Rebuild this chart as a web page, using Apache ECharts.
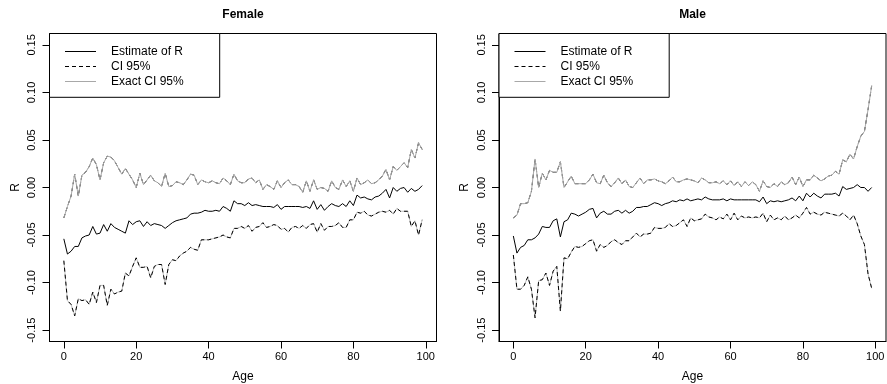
<!DOCTYPE html>
<html><head><meta charset="utf-8">
<script src="https://cdn.jsdelivr.net/npm/echarts@6/dist/echarts.min.js"></script>
<style>html,body{margin:0;padding:0;background:#fff}#c{width:887px;height:384px}</style>
</head><body><div id="c"></div>
<script>
const ages = [0,1,2,3,4,5,6,7,8,9,10,11,12,13,14,15,16,17,18,19,20,21,22,23,24,25,26,27,28,29,30,31,32,33,34,35,36,37,38,39,40,41,42,43,44,45,46,47,48,49,50,51,52,53,54,55,56,57,58,59,60,61,62,63,64,65,66,67,68,69,70,71,72,73,74,75,76,77,78,79,80,81,82,83,84,85,86,87,88,89,90,91,92,93,94,95,96,97,98,99];

const femaleEstimate = [
-0.054,-0.070,-0.067,-0.062,-0.062,-0.053,-0.051,-0.050,-0.041,-0.049,
-0.048,-0.039,-0.046,-0.038,-0.042,-0.044,-0.046,-0.048,-0.035,-0.039,
-0.036,-0.035,-0.041,-0.036,-0.040,-0.038,-0.039,-0.040,-0.043,-0.040,
-0.037,-0.035,-0.034,-0.033,-0.032,-0.028,-0.027,-0.027,-0.026,-0.024,
-0.025,-0.025,-0.024,-0.025,-0.020,-0.022,-0.025,-0.014,-0.017,-0.017,
-0.019,-0.016,-0.019,-0.018,-0.019,-0.020,-0.020,-0.020,-0.021,-0.018,
-0.023,-0.020,-0.020,-0.020,-0.020,-0.020,-0.021,-0.020,-0.022,-0.014,
-0.023,-0.018,-0.024,-0.020,-0.017,-0.019,-0.020,-0.017,-0.020,-0.014,
-0.019,-0.008,-0.011,-0.010,-0.012,-0.013,-0.010,-0.009,-0.006,-0.002,
-0.011,0.000,-0.004,-0.001,0.000,-0.005,-0.001,-0.004,-0.002,0.002];

const femaleUpper = [
-0.032,-0.020,-0.009,0.014,-0.009,0.013,0.016,0.022,0.031,0.024,
0.008,0.026,0.033,0.032,0.028,0.021,0.014,0.020,0.014,0.008,
0.000,0.015,0.003,0.008,0.013,0.007,0.005,0.001,0.015,0.001,
0.002,0.006,0.005,0.003,0.008,0.014,0.013,0.003,0.008,0.006,
0.005,0.007,0.005,0.004,0.010,0.007,0.003,0.014,0.007,0.005,
0.005,0.009,0.010,0.005,0.008,-0.002,0.003,0.001,-0.002,0.007,
0.000,0.005,0.008,0.003,0.003,0.001,-0.005,0.007,-0.004,0.008,
-0.002,0.000,-0.001,-0.004,0.007,0.000,-0.002,0.008,0.001,0.007,
-0.004,0.010,0.003,0.005,0.008,0.004,0.005,0.008,0.012,0.019,
0.008,0.022,0.018,0.022,0.026,0.021,0.040,0.031,0.047,0.040];

const femaleLower = [
-0.077,-0.119,-0.123,-0.135,-0.117,-0.119,-0.118,-0.123,-0.110,-0.121,
-0.103,-0.103,-0.124,-0.107,-0.112,-0.110,-0.109,-0.090,-0.093,-0.083,
-0.074,-0.084,-0.084,-0.083,-0.095,-0.083,-0.081,-0.081,-0.102,-0.081,
-0.076,-0.077,-0.072,-0.069,-0.067,-0.063,-0.065,-0.066,-0.055,-0.055,
-0.055,-0.054,-0.053,-0.052,-0.050,-0.052,-0.053,-0.043,-0.043,-0.041,
-0.043,-0.040,-0.046,-0.042,-0.041,-0.037,-0.042,-0.041,-0.039,-0.040,
-0.044,-0.043,-0.047,-0.042,-0.041,-0.043,-0.040,-0.043,-0.039,-0.038,
-0.047,-0.038,-0.045,-0.041,-0.041,-0.040,-0.037,-0.042,-0.042,-0.034,
-0.034,-0.026,-0.027,-0.025,-0.029,-0.030,-0.028,-0.026,-0.025,-0.026,
-0.024,-0.028,-0.022,-0.025,-0.025,-0.025,-0.041,-0.035,-0.050,-0.034];

const maleEstimate = [
-0.051,-0.069,-0.063,-0.061,-0.055,-0.055,-0.053,-0.049,-0.041,-0.042,
-0.042,-0.035,-0.033,-0.052,-0.036,-0.034,-0.027,-0.028,-0.030,-0.028,
-0.026,-0.023,-0.022,-0.032,-0.027,-0.025,-0.028,-0.028,-0.025,-0.024,
-0.027,-0.024,-0.027,-0.025,-0.021,-0.021,-0.020,-0.020,-0.018,-0.016,
-0.017,-0.019,-0.017,-0.016,-0.014,-0.015,-0.013,-0.014,-0.012,-0.014,
-0.013,-0.012,-0.013,-0.010,-0.012,-0.013,-0.013,-0.013,-0.012,-0.014,
-0.012,-0.013,-0.013,-0.013,-0.013,-0.013,-0.013,-0.013,-0.015,-0.010,
-0.017,-0.014,-0.015,-0.014,-0.015,-0.014,-0.013,-0.011,-0.014,-0.009,
-0.014,-0.006,-0.010,-0.006,-0.009,-0.011,-0.007,-0.007,-0.007,-0.006,
-0.009,0.001,-0.002,-0.001,0.000,0.003,0.000,0.000,-0.004,0.000];

const maleUpper = [
-0.032,-0.029,-0.017,-0.017,-0.016,-0.004,0.030,0.000,0.015,0.008,
0.018,0.016,0.016,0.027,0.000,0.006,0.012,0.004,0.004,0.004,
0.004,0.008,0.014,0.005,0.004,0.013,0.005,0.001,0.005,0.010,
0.004,0.008,0.001,0.000,0.005,0.010,0.004,0.008,0.008,0.009,
0.007,0.006,0.004,0.007,0.011,0.006,0.006,0.008,0.009,0.008,
0.007,0.005,0.010,0.008,0.005,0.005,0.006,0.004,0.007,0.003,
0.007,0.002,0.006,0.001,0.006,0.002,0.006,0.003,-0.004,0.007,
0.001,0.000,0.004,0.001,0.006,0.003,0.005,0.011,0.003,0.011,
0.001,0.008,0.008,0.013,0.010,0.007,0.009,0.012,0.013,0.017,
0.014,0.029,0.027,0.035,0.030,0.043,0.054,0.059,0.082,0.107];

const maleLower = [
-0.071,-0.107,-0.107,-0.103,-0.094,-0.107,-0.137,-0.098,-0.097,-0.090,
-0.103,-0.088,-0.083,-0.130,-0.074,-0.075,-0.068,-0.062,-0.063,-0.062,
-0.059,-0.056,-0.055,-0.067,-0.060,-0.063,-0.061,-0.057,-0.055,-0.058,
-0.060,-0.056,-0.056,-0.052,-0.048,-0.052,-0.049,-0.049,-0.048,-0.042,
-0.043,-0.043,-0.042,-0.038,-0.041,-0.040,-0.037,-0.034,-0.041,-0.032,
-0.035,-0.034,-0.033,-0.028,-0.031,-0.032,-0.034,-0.031,-0.033,-0.028,
-0.034,-0.027,-0.034,-0.030,-0.032,-0.031,-0.032,-0.031,-0.032,-0.027,
-0.036,-0.029,-0.034,-0.032,-0.034,-0.030,-0.034,-0.032,-0.029,-0.032,
-0.027,-0.021,-0.028,-0.026,-0.028,-0.029,-0.026,-0.027,-0.028,-0.029,
-0.030,-0.027,-0.030,-0.034,-0.029,-0.038,-0.051,-0.060,-0.091,-0.106];

// The exact CI lies on top of the normal-approximation CI in the picture
const femaleExactUpper = femaleUpper;
const femaleExactLower = femaleLower;
const maleExactUpper = maleUpper;
const maleExactLower = maleLower;

const xTicks = [0, 20, 40, 60, 80, 100];
const yTicks = [-0.15, -0.10, -0.05, 0, 0.05, 0.10, 0.15];
const panelTitles = ['Female', 'Male'];
const legendNames = ['Estimate of R', 'CI 95%', 'Exact CI 95%'];

const panels = [
  {est: femaleEstimate, lo: femaleLower, up: femaleUpper, elo: femaleExactLower, eup: femaleExactUpper},
  {est: maleEstimate, lo: maleLower, up: maleUpper, elo: maleExactLower, eup: maleExactUpper}
];

const FONT = '"Liberation Sans", Arial, Helvetica, sans-serif';
const X_MIN = -3.96, X_MAX = 102.96, Y_MIN = -0.162, Y_MAX = 0.162;
const TICK = 7;
const boxes = [
  {left: 49.5, top: 33.5, width: 387, height: 308},
  {left: 499, top: 33.5, width: 387, height: 308}
];

const pairs = arr => ages.map((a, i) => [a, arr[i]]);

const grid = [], xAxis = [], yAxis = [], series = [], title = [], legend = [];
// main plot boxes (grid 0, 1)
boxes.forEach((b, i) => {
  grid.push({left: b.left, top: b.top, width: b.width, height: b.height, show: true,
    borderColor: '#000', borderWidth: 1, backgroundColor: 'transparent', containLabel: false, outerBoundsMode: 'none'});
  xAxis.push({type: 'value', gridIndex: i, min: X_MIN, max: X_MAX, position: 'bottom',
    axisLine: {show: true, onZero: false, lineStyle: {color: '#000', width: 1}}, splitLine: {show: false},
    axisTick: {show: false},
    axisLabel: {customValues: xTicks, fontSize: 11, color: '#000', margin: 10, fontFamily: FONT},
    name: 'Age', nameLocation: 'middle', nameGap: 29,
    nameTextStyle: {fontSize: 12, color: '#000', fontFamily: FONT}});
  yAxis.push({type: 'value', gridIndex: i, min: Y_MIN, max: Y_MAX, position: 'left',
    axisLine: {show: true, onZero: false, lineStyle: {color: '#000', width: 1}}, splitLine: {show: false},
    axisTick: {show: false},
    axisLabel: {customValues: yTicks, rotate: 90, fontSize: 11, color: '#000', margin: 12, fontFamily: FONT,
      formatter: v => Number(v).toFixed(2)},
    name: 'R', nameLocation: 'middle', nameGap: 28,
    nameTextStyle: {fontSize: 12, color: '#000', fontFamily: FONT}});
  title.push({text: panelTitles[i], left: b.left + b.width / 2, top: 9, textAlign: 'center', padding: 0,
    textStyle: {fontSize: 12, fontWeight: 'bold', color: '#000', fontFamily: FONT}});
  legend.push({show: true, orient: 'vertical', left: b.left, top: b.top, data: legendNames,
    itemWidth: 31, itemHeight: 12, itemGap: 3, padding: [12, 36, 9.8, 15],
    borderColor: '#000', borderWidth: 1, borderRadius: 0, backgroundColor: '#fff',
    selectedMode: false,
    itemStyle: {opacity: 0},
    lineStyle: {width: 1},
    textStyle: {fontFamily: FONT, fontSize: 12, color: '#000', padding: [0, 0, 0, 10]}});
  const p = panels[i];
  const base = {type: 'line', xAxisIndex: i, yAxisIndex: i, symbol: 'none', showSymbol: false, animation: false, silent: true};
  series.push(Object.assign({}, base, {name: 'Estimate of R', z: 3, data: pairs(p.est), lineStyle: {color: '#000', width: 1}, itemStyle: {color: '#000'}}));
  series.push(Object.assign({}, base, {name: 'CI 95%', z: 2, data: pairs(p.up), lineStyle: {color: '#000', width: 1, type: [4, 3]}, itemStyle: {color: '#000'}}));
  series.push(Object.assign({}, base, {name: 'Exact CI 95%', z: 4, data: pairs(p.eup), lineStyle: {color: '#a8a8a8', width: 1}, itemStyle: {color: '#bebebe'}}));
  series.push(Object.assign({}, base, {name: 'Exact CI 95%', z: 1, data: pairs(p.elo), lineStyle: {color: '#bebebe', width: 1}, itemStyle: {color: '#bebebe'}}));
  series.push(Object.assign({}, base, {name: 'CI 95%', z: 2, data: pairs(p.lo), lineStyle: {color: '#000', width: 1, type: [4, 3]}, itemStyle: {color: '#000'}}));
});

// tick-only overlay grids (grid 2, 3): each box widened by the tick length on the
// left and bottom with the same scale, so inward ticks fall exactly outside the box
boxes.forEach((b, i) => {
  const xMinExt = X_MIN - TICK * (X_MAX - X_MIN) / b.width;
  const yMinExt = Y_MIN - TICK * (Y_MAX - Y_MIN) / b.height;
  grid.push({left: b.left - TICK, top: b.top, width: b.width + TICK, height: b.height + TICK, show: false,
    containLabel: false, outerBoundsMode: 'none'});
  xAxis.push({type: 'value', gridIndex: i + 2, min: xMinExt, max: X_MAX, position: 'bottom',
    axisLine: {show: false, onZero: false}, splitLine: {show: false}, axisLabel: {show: false},
    axisTick: {show: true, inside: true, customValues: xTicks, length: TICK, lineStyle: {color: '#000', width: 1}}});
  yAxis.push({type: 'value', gridIndex: i + 2, min: yMinExt, max: Y_MAX, position: 'left',
    axisLine: {show: false, onZero: false}, splitLine: {show: false}, axisLabel: {show: false},
    axisTick: {show: true, inside: true, customValues: yTicks, length: TICK, lineStyle: {color: '#000', width: 1}}});
});

const chart = echarts.init(document.getElementById('c'), null, {renderer: 'canvas'});
chart.setOption({animation: false, backgroundColor: '#fff', title, legend, grid, xAxis, yAxis, series});
</script>
</body></html>
